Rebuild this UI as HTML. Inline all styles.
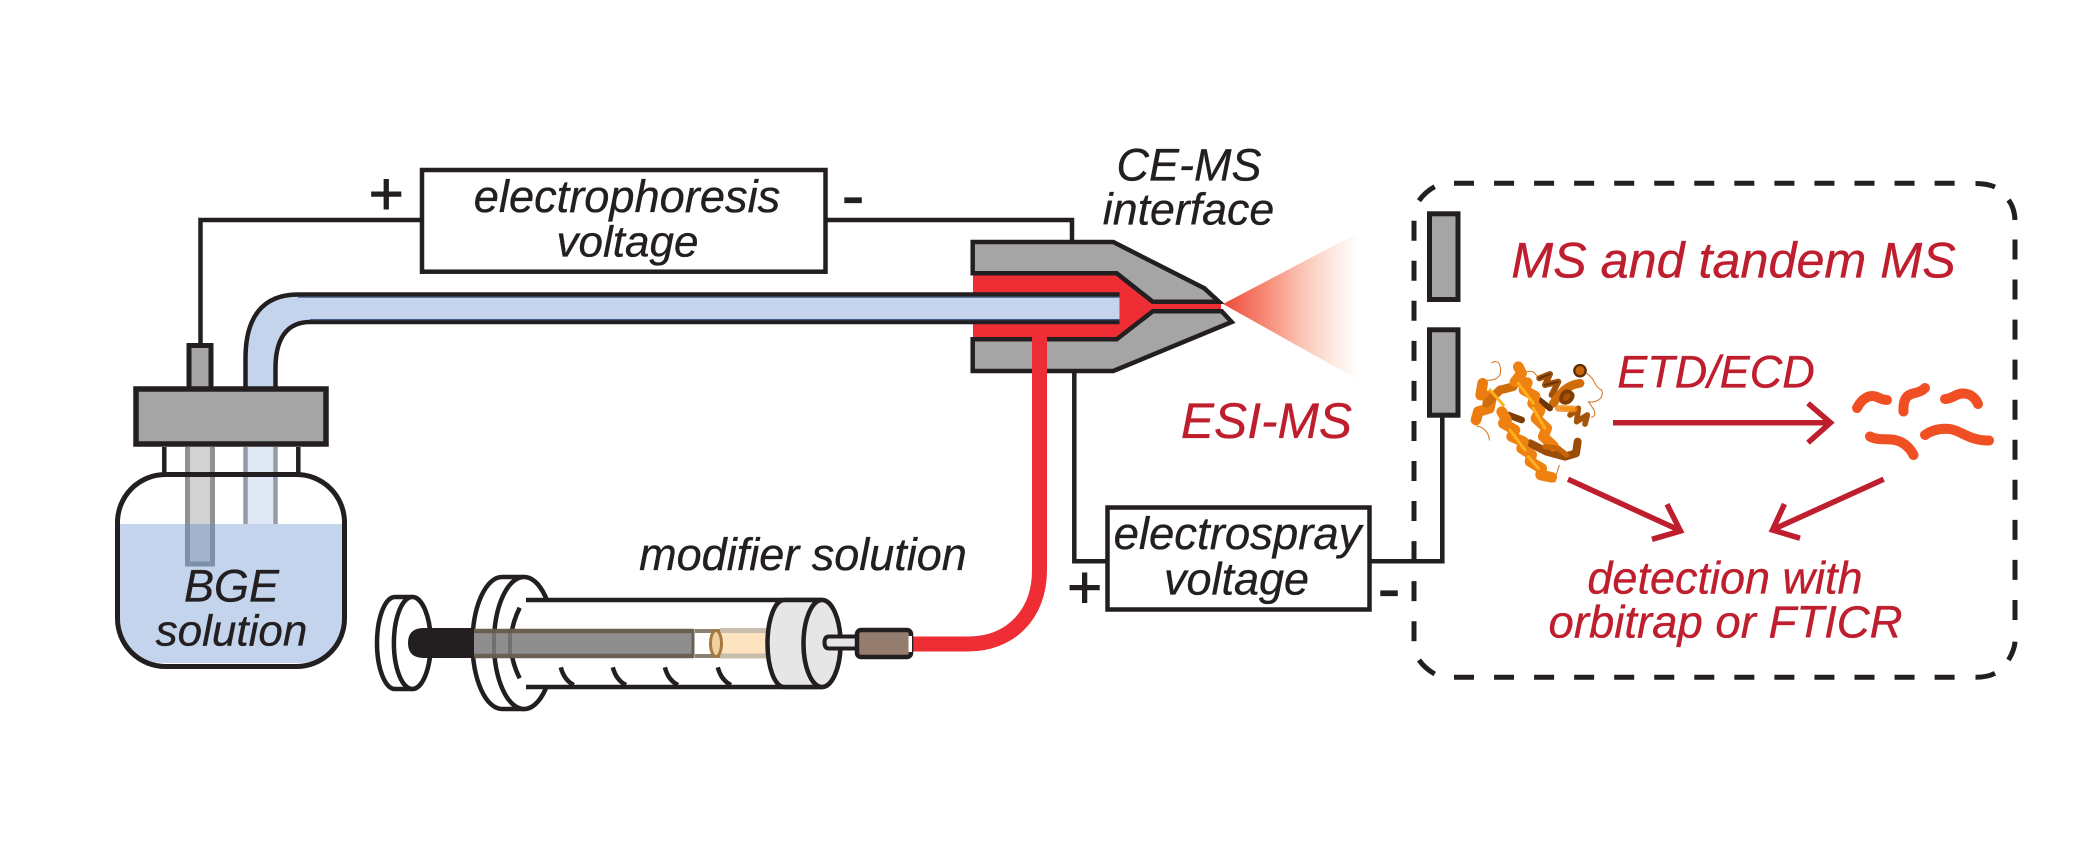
<!DOCTYPE html>
<html><head><meta charset="utf-8"><style>
html,body{margin:0;padding:0;background:#fff;width:2079px;height:853px;overflow:hidden}
svg{display:block}
text{font-family:"Liberation Sans",sans-serif;font-style:italic;fill:#231f20;stroke:#231f20;stroke-width:.35px;font-size:45px;text-anchor:middle}
.r{fill:#be1e2d;stroke:#be1e2d}
.s{font-style:normal}
.p{stroke-width:1px}
</style></head><body>
<svg width="2079" height="853" viewBox="0 0 2079 853" xmlns="http://www.w3.org/2000/svg">
<defs><linearGradient id="sp" x1="1223" x2="1371" y1="0" y2="0" gradientUnits="userSpaceOnUse"><stop offset="0" stop-color="#ef4a3c"/><stop offset=".3" stop-color="#f68d78"/><stop offset=".55" stop-color="#fbc7b8"/><stop offset=".78" stop-color="#feeee8"/><stop offset=".92" stop-color="#ffffff"/></linearGradient></defs>
<rect width="2079" height="853" fill="#fff"/>

<!-- wires -->
<g fill="none" stroke="#231f20" stroke-width="4.5">
<path d="M200.5 346V220H422M826 220H1072V242"/>
<path d="M1074.3 371V561.3H1107.5M1369.5 561.3H1442.3V414"/>
</g>
<rect x="422" y="170" width="403.5" height="101.7" fill="#fff" stroke="#231f20" stroke-width="4.5"/>
<rect x="1107.5" y="507.5" width="262" height="102" fill="#fff" stroke="#231f20" stroke-width="4.5"/>

<!-- bottle -->
<path d="M164.3 447V474M298.3 447V474" stroke="#231f20" stroke-width="4.5" fill="none"/>
<rect x="117.5" y="474.5" width="227" height="192" rx="48" ry="48" fill="#fff"/>
<path d="M120 524H342V618Q342 663 296 663H166Q120 663 120 618Z" fill="#c3d4ec"/>
<rect x="187.5" y="447" width="25" height="117" fill="#d2d2d2"/>
<rect x="187.5" y="524" width="25" height="40" fill="#a3b3cd"/>
<path d="M187.5 447V564H212.5V447" fill="none" stroke="#919191" stroke-width="5"/>
<path d="M187.5 524V564H212.5V524" fill="none" stroke="#7c8fab" stroke-width="5"/>
<rect x="245.5" y="447" width="30" height="77" fill="#e0e7f5"/>
<path d="M245.5 447V524M275.5 447V524" stroke="#969ba7" stroke-width="4.5"/>
<rect x="117.5" y="474.5" width="227" height="192" rx="48" ry="48" fill="none" stroke="#231f20" stroke-width="5"/>

<!-- stub -->
<rect x="189" y="345.5" width="22" height="44" fill="#a5a5a5" stroke="#231f20" stroke-width="5"/>

<!-- interface -->
<path d="M973 273.3H1116.7L1152.7 301.7H1221V311.3H1152.7L1116.7 339.3H973Z" fill="#ef2d35"/>
<path d="M245.5 392V358C245.5 318 262 294.5 298 294.5H1119.5V322H310C286 322 275.5 340 275.5 368V392Z" fill="#c3d4ec"/>
<path d="M245.5 392V358C245.5 318 262 294.5 298 294.5H1119.5M1119.5 322H310C286 322 275.5 340 275.5 368V392" fill="none" stroke="#231f20" stroke-width="4.5"/>
<path d="M298 297.2H1119.5M1119.5 319.6H310" fill="none" stroke="#3f5b85" stroke-width="1.2"/>
<path d="M972.7 242H1113.3L1204.3 288.3L1219 301.7H1152.7L1116.7 273.3H972.7Z" fill="#a5a5a5" stroke="#231f20" stroke-width="4.5"/>
<path d="M972.7 339.3H1116.7L1152.7 311.3H1221.7L1231.7 322L1113.3 371H972.7Z" fill="#a5a5a5" stroke="#231f20" stroke-width="4.5"/>
<path d="M1223 304L1371 226V387Z" fill="url(#sp)"/>

<!-- cap -->
<rect x="136" y="389" width="190" height="55" fill="#a5a5a5" stroke="#231f20" stroke-width="5.5"/>

<!-- red tube -->
<path d="M1039.5 336V570C1039.5 615 1010 644 968 644H910" fill="none" stroke="#ef2d35" stroke-width="15"/>

<!-- syringe -->
<g stroke="#231f20" stroke-width="4.5" fill="#fff">
<path d="M395 597H412.3A18.4 46 0 0 1 412.3 689H395A18 46 0 0 1 395 597Z"/>
<ellipse cx="412.3" cy="643" rx="18.4" ry="46"/>
<path d="M502 577H524A30 66 0 0 1 524 709H502A29.5 66 0 0 1 502 577Z"/>
<ellipse cx="524" cy="643" rx="30" ry="66"/>
<rect x="526" y="600" width="296" height="87" stroke="none"/>
<path d="M526 600H822M526 687H822" fill="none"/>
<path d="M519.7 607.7Q502 643 519.7 678.3M560.8 667.3Q564 680 573.8 685M612.8 667.3Q616 680 626 685M664.9 667.3Q668 680 678 685M717.8 667.3Q721 680 731 685" fill="none"/>
</g>
<path d="M424 628H474V658H424Q408 658 408 643Q408 628 424 628Z" fill="#231f20"/>
<rect x="474" y="629" width="219" height="29" fill="#8e8e8e"/>
<path d="M474 631H693M474 656H693" stroke="#6b5f52" stroke-width="4.5"/>
<path d="M494 629V658M510 629V658" stroke="#5f574e" stroke-width="4" opacity=".55"/>
<path d="M693 629V658" stroke="#6b5f52" stroke-width="3"/>
<rect x="695" y="629" width="18" height="29" fill="#fff"/>
<path d="M695 631H722M695 656H722" stroke="#8c8070" stroke-width="4"/>
<rect x="720" y="633" width="46" height="21" fill="#fde3bf"/>
<path d="M720 630.5H766M720 656H766" stroke="#c9bdab" stroke-width="5"/>
<ellipse cx="716" cy="643.5" rx="5.5" ry="13" fill="#f1cf9e" stroke="#a5793f" stroke-width="3"/>
<g stroke="#231f20" stroke-width="4.5" fill="#e6e6e6">
<path d="M784 600H822A18.5 43.5 0 0 1 822 687H784A16.5 43.5 0 0 1 784 600Z"/>
<ellipse cx="822" cy="643.5" rx="18.5" ry="43.5"/>
</g>
<path d="M858 636.5H829Q824.5 636.5 824.5 642.5Q824.5 648.5 829 648.5H858Z" fill="#e6e6e6" stroke="#231f20" stroke-width="4"/>
<rect x="857" y="630" width="54" height="27" rx="4" fill="#947c6e" stroke="#231f20" stroke-width="4.5"/>
<rect x="908.5" y="636" width="3.5" height="16" fill="#fff"/>

<!-- dashed box -->
<g fill="none" stroke="#231f20" stroke-width="5">
<g stroke-dasharray="20 20.05">
<path d="M1454 183.3H1955M1454 677.3H1955"/>
<path d="M2015 239.5V622"/>
<path d="M1414 220.7V642"/>
</g>
<path d="M1419 200.7Q1425 192 1434.7 186.7M1975.5 183.5Q1987 183.5 1995 187M2008.5 200Q2014.5 208 2015 220M2015 641.7Q2014.5 650 2008.5 660M1995 673.3Q1987 677.3 1975.5 677.3M1419 660Q1425 668.5 1434.7 674"/>
</g>
<rect x="1429.5" y="213.8" width="28.5" height="85.7" fill="#a5a5a5" stroke="#231f20" stroke-width="5"/>
<rect x="1429.5" y="329.8" width="28.5" height="85.4" fill="#a5a5a5" stroke="#231f20" stroke-width="5"/>
<path d="M1370 561.3H1442.3V415" fill="none" stroke="#231f20" stroke-width="4.5"/>

<!-- protein -->
<g transform="translate(1450 340) scale(.3333)" fill="none" stroke-linejoin="round" stroke-linecap="round">
<path d="M125 68C150 55 155 85 150 105C135 125 120 118 108 122M80 258C100 260 118 280 118 300M232 95C250 90 255 100 262 110M410 100C440 120 430 140 455 150C465 180 430 190 415 185C430 205 445 225 425 232M328 376C322 395 315 410 315 426" stroke="#d9701a" stroke-width="3"/>
<path d="M268 115L300 102L285 135L325 125L305 165" stroke="#a05008" stroke-width="18"/>
<path d="M268 115L300 102M285 135L325 125" stroke="#6b3405" stroke-width="6"/>
<path d="M310 190C330 160 350 135 390 130" stroke="#d06c0a" stroke-width="26"/>
<path d="M335 170C325 195 365 195 368 165C360 150 340 150 335 170" stroke="#7f3d05" stroke-width="12" fill="#a85508"/>
<path d="M255 170L300 205" stroke="#6e3505" stroke-width="18"/>
<path d="M175 225L215 240" stroke="#7f3d05" stroke-width="20"/>
<path d="M240 310L290 335L345 350L378 340L383 305" stroke="#9a4c08" stroke-width="24"/>
<path d="M360 225L385 205L380 245L412 225L405 252" stroke="#a55408" stroke-width="17"/>
<path d="M98 130L92 165L125 170L118 205L85 215L78 240" stroke="#ec7c10" stroke-width="32"/>
<path d="M110 190L150 150L190 140" stroke="#d06c0a" stroke-width="26"/>
<path d="M205 80L215 100L195 125L232 128L222 150L255 168L248 190L270 212L258 235L290 265L280 290L310 318" stroke="#ee8110" stroke-width="32"/>
<path d="M155 215L170 240L160 250L195 270L185 290L220 305L215 325L245 345L240 365L275 385L272 405L305 412" stroke="#ee8110" stroke-width="32"/>
<path d="M120 150L160 195M205 130L250 190M180 270L225 330M235 350L265 385M250 205L285 265M335 205L370 208" stroke="#ffb020" stroke-width="9"/>
<path d="M325 205L372 207" stroke="#f08a10" stroke-width="20" opacity=".8"/>
<circle cx="390" cy="92" r="17" stroke="#5d2e05" stroke-width="7" fill="#c96508"/>
<path d="M285 320L325 325L350 345" stroke="#c96508" stroke-width="16"/>
</g>

<!-- fragments -->
<g fill="none" stroke="#f04e23" stroke-width="10" stroke-linecap="round">
<path d="M1857 408C1862 398 1870 394 1877 397C1881 399 1884 400 1887 400"/>
<path d="M1903.5 411.5C1903 401 1906 395 1913 393.5C1918 392.5 1922 391 1925 388"/>
<path d="M1945 399C1952 399 1955 394 1962 393.5C1969 393 1975 397 1978 404"/>
<path d="M1870 436.5C1878 441 1887 438 1895 440C1904 442 1910 448 1913.5 455"/>
<path d="M1925 435C1932 430 1941 428 1950 429C1962 431 1970 441 1989 440.5"/>
</g>

<!-- arrows -->
<g fill="none" stroke="#be1e2d" stroke-width="5.5">
<path d="M1613 422.7H1830M1808 403.3L1830.5 422.7L1808 442.7"/>
<path d="M1568 479.3L1680 530.5M1667 504.3L1680.5 531L1652 539.3"/>
<path d="M1883.7 479.3L1773 529.5M1784.5 504L1772.5 530L1800 538.3"/>
</g>

<!-- text -->
<text x="627" y="211.8" style="font-size:45.2px">electrophoresis</text>
<text x="627.5" y="256.7" style="font-size:44px">voltage</text>
<text x="386.3" y="214.5" class="s p" style="font-size:60px">+</text>
<text x="853" y="219" class="s" style="font-size:70px">-</text>
<text x="1189" y="180.5" style="font-size:45px">CE-MS</text>
<text x="1188.5" y="224.3" style="font-size:44.7px">interface</text>
<text x="231.5" y="601.7">BGE</text>
<text x="231.5" y="645.5" style="font-size:44px">solution</text>
<text x="803" y="570">modifier solution</text>
<text x="1237.5" y="549" style="font-size:45.5px">electrospray</text>
<text x="1236.5" y="594.5">voltage</text>
<text x="1084.7" y="608" class="s p" style="font-size:60px">+</text>
<text x="1389" y="612" class="s" style="font-size:70px">-</text>
<text x="1266.5" y="438" class="r" style="font-size:49.7px">ESI-MS</text>
<text x="1733.5" y="277.5" class="r" style="font-size:50.3px">MS and tandem MS</text>
<text x="1716" y="387.7" class="r">ETD/ECD</text>
<text x="1725" y="593.3" class="r">detection with</text>
<text x="1725.5" y="637.7" class="r" style="font-size:45.5px">orbitrap or FTICR</text>
</svg>
</body></html>
